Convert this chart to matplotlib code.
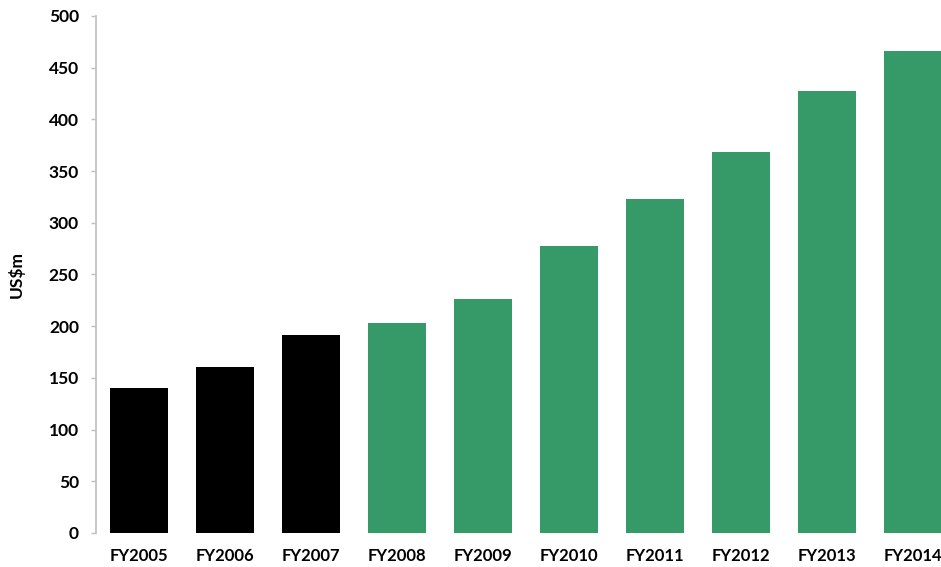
import matplotlib
matplotlib.use("Agg")
import matplotlib.pyplot as plt

# revenue by fiscal year
years = ["FY2005", "FY2006", "FY2007", "FY2008", "FY2009",
         "FY2010", "FY2011", "FY2012", "FY2013", "FY2014"]
values = [140, 161, 191, 203, 226, 278, 323, 368, 427, 466]
historic = [True, True, True, False, False, False, False, False, False, False]

colors = ["#000000" if h else "#359a68" for h in historic]

plt.rcParams['font.family'] = ['Lato', 'DejaVu Sans']
plt.rcParams['font.weight'] = 'bold'

fig = plt.figure(figsize=(9.41, 5.67), dpi=100)
ax = fig.add_axes([0.1017, 0.06, 0.8983, 0.9118])

x = range(len(years))
ax.bar(x, values, width=0.674, color=colors)

ax.set_xlim(-0.503, 9.33)
ax.set_ylim(0, 500)
ax.set_yticks(range(0, 501, 50))
ax.set_xticks(list(x))
ax.set_xticklabels(years, fontsize=12, fontweight='bold')
ax.tick_params(axis='x', length=0, pad=10.5)
ax.tick_params(axis='y', length=3.6, width=1, color='#bfbfbf', pad=8.5, labelsize=12.5)
for lab in ax.get_yticklabels():
    lab.set_fontweight('bold')

for s in ['top', 'right', 'bottom']:
    ax.spines[s].set_visible(False)
ax.spines['left'].set_color('#bfbfbf')
ax.spines['left'].set_linewidth(1.2)

ax.set_ylabel("US$m", fontsize=12.5, fontweight='bold', labelpad=17)

fig.savefig("out.png", dpi=100)
